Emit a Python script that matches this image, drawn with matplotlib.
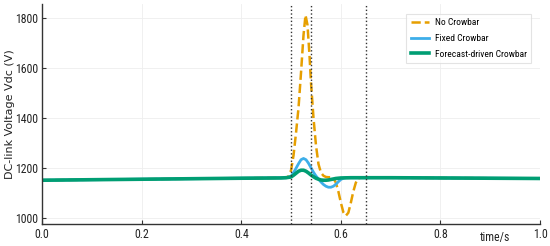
import matplotlib.pyplot as plt

# time axis (s) and DC-link voltage (V)
t_forecast = [0.0, 0.1, 0.2, 0.3, 0.4, 0.48, 0.49, 0.50, 0.505, 0.51, 0.515, 0.52,
              0.525, 0.53, 0.535, 0.54, 0.545, 0.55, 0.555, 0.56, 0.565, 0.57,
              0.575, 0.58, 0.585, 0.59, 0.60, 0.62, 0.7, 0.8, 0.9, 1.0]
v_forecast = [1150, 1152, 1154, 1156, 1158, 1159, 1160, 1163, 1170, 1178, 1186, 1190,
              1190, 1186, 1179, 1171, 1164, 1158, 1154, 1151, 1150, 1150,
              1151, 1153, 1155, 1157, 1159, 1160, 1160, 1159, 1158, 1157]

t_fixed = [0.0, 0.2, 0.4, 0.49, 0.495, 0.50, 0.505, 0.51, 0.515, 0.52, 0.525, 0.53,
           0.535, 0.54, 0.545, 0.55, 0.555, 0.56, 0.565, 0.57, 0.575, 0.58, 0.585,
           0.59, 0.595, 0.60, 0.605, 0.61, 0.7, 0.8, 0.9, 1.0]
v_fixed = [1150, 1154, 1158, 1160, 1162, 1166, 1180, 1198, 1216, 1232, 1237, 1232,
           1218, 1200, 1182, 1167, 1155, 1143, 1133, 1126, 1122, 1122, 1126,
           1134, 1144, 1153, 1158, 1160, 1160, 1159, 1158, 1157]

t_none = [0.0, 0.2, 0.4, 0.49, 0.495, 0.50, 0.505, 0.51, 0.515, 0.52, 0.525, 0.529,
          0.533, 0.537, 0.54, 0.545, 0.55, 0.555, 0.56, 0.565, 0.57, 0.575, 0.58,
          0.585, 0.59, 0.595, 0.60, 0.605, 0.61, 0.615, 0.62, 0.625, 0.63, 0.635,
          0.64, 0.65, 0.8, 1.0]
v_none = [1150, 1154, 1158, 1160, 1165, 1190, 1250, 1340, 1440, 1580, 1730, 1810,
          1770, 1650, 1540, 1400, 1290, 1215, 1180, 1168, 1163, 1162, 1162,
          1158, 1140, 1105, 1060, 1022, 1008, 1020, 1060, 1105, 1140, 1158,
          1160, 1160, 1159, 1157]

event_times = [0.50, 0.54, 0.65]

c_none = "#E69F00"
c_fixed = "#3DAEE9"
c_forecast = "#009E73"

narrow = ["Roboto Condensed", "Roboto", "DejaVu Sans"]

fig = plt.figure(figsize=(5.5, 2.46), dpi=100)
ax = fig.add_axes([0.0764, 0.0894, 0.9056, 0.895])

ax.plot(t_none, v_none, "--", color=c_none, lw=1.8, label="No Crowbar")
ax.plot(t_fixed, v_fixed, color=c_fixed, lw=2.0, label="Fixed Crowbar")
ax.plot(t_forecast, v_forecast, color=c_forecast, lw=2.6, label="Forecast-driven Crowbar")

for tv in event_times:
    ax.axvline(tv, color="#333333", ls=":", lw=1.0)

ax.set_xlim(0, 1.0)
ax.set_ylim(975, 1855)
ax.set_xticks([0.0, 0.2, 0.4, 0.6, 0.8, 1.0])
ax.set_yticks([1000, 1200, 1400, 1600, 1800])

ax.grid(True, color="#eeeeee", lw=0.6)
for s in ["top", "right"]:
    ax.spines[s].set_visible(False)
for s in ["left", "bottom"]:
    ax.spines[s].set_color("#333333")
    ax.spines[s].set_linewidth(1.0)

ax.tick_params(direction="in", length=3, color="#333333", labelsize=8.5, pad=3,
               labelcolor="#222222")
for lab in ax.get_xticklabels() + ax.get_yticklabels():
    lab.set_family(narrow)

ax.set_ylabel("DC-link Voltage Vdc (V)", fontsize=8, color="#222222")
ax.yaxis.set_label_coords(-0.055, 0.5)
ax.text(0.91, -0.03, "time/s", transform=ax.transAxes, ha="center", va="top",
        fontsize=8.5, color="#222222", family=narrow)

leg = ax.legend(loc="upper right", frameon=True, fancybox=False,
                edgecolor="#dddddd", handlelength=1.9, borderpad=0.5,
                labelspacing=0.7, handletextpad=0.6,
                bbox_to_anchor=(0.992, 0.977), prop={"family": narrow, "size": 6.8})
leg.get_frame().set_linewidth(0.8)

fig.savefig("out.png", dpi=100)
